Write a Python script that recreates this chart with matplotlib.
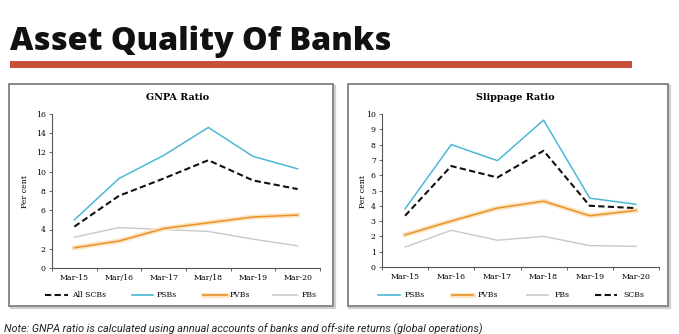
import matplotlib
matplotlib.use("Agg")
import matplotlib.pyplot as plt
from matplotlib.patches import Rectangle
import matplotlib.patheffects as pe

categories_gnpa = ["Mar-15", "Mar/16", "Mar-17", "Mar/18", "Mar-19", "Mar-20"]
categories_slip = ["Mar-15", "Mar-16", "Mar-17", "Mar-18", "Mar-19", "Mar-20"]

gnpa_scbs = [4.3, 7.5, 9.3, 11.2, 9.1, 8.2]
gnpa_psbs = [5.0, 9.3, 11.7, 14.6, 11.6, 10.3]
gnpa_pvbs = [2.1, 2.8, 4.1, 4.7, 5.3, 5.5]
gnpa_fbs = [3.2, 4.2, 4.0, 3.8, 3.0, 2.3]

slip_psbs = [3.8, 8.0, 6.95, 9.6, 4.5, 4.1]
slip_pvbs = [2.1, 3.0, 3.85, 4.3, 3.35, 3.7]
slip_fbs = [1.3, 2.4, 1.75, 2.0, 1.4, 1.35]
slip_scbs = [3.35, 6.6, 5.85, 7.6, 4.0, 3.85]

gnpa_yticks = [0, 2, 4, 6, 8, 10, 12, 14, 16]
slip_yticks = [0, 1, 2, 3, 4, 5, 6, 7, 8, 9, 10]

C_PSB = "#4db8d6"
C_PVB = "#e8922a"
C_FB = "#c9c9c9"
C_SCB = "#111111"
SERIF = ["DejaVu Serif"]
FS = 5.6

W, H = 679, 334
fig = plt.figure(figsize=(W / 100, H / 100), dpi=100)
renderer = fig.canvas.get_renderer()

def fx(px):
    return px / W

def fy(py):
    return 1 - py / H

def fit_width(t, target_px):
    w = t.get_window_extent(renderer=renderer).width
    t.set_fontsize(t.get_fontsize() * target_px / w)

# Title
title = fig.text(fx(10), fy(50), "Asset Quality Of Banks", fontsize=24, fontweight=800,
                 family=["Open Sans", "DejaVu Sans"], va="baseline", ha="left", color="#111111")
fit_width(title, 382)
fig.patches.append(Rectangle((fx(10), fy(67.5)), fx(622), 6 / H, transform=fig.transFigure,
                             facecolor="#c8503a", edgecolor="none"))

# Panel boxes with a faint shadow
for x0, x1 in [(9, 333), (348, 668)]:
    fig.patches.append(Rectangle((fx(x0 + 1.5), fy(307.5)), fx(x1 - x0), (306 - 84) / H,
                                 transform=fig.transFigure, facecolor="none",
                                 edgecolor="#d0d0d0", linewidth=1.6, zorder=0))
    fig.patches.append(Rectangle((fx(x0), fy(306)), fx(x1 - x0), (306 - 84) / H,
                                 transform=fig.transFigure, facecolor="white",
                                 edgecolor="#7f7f7f", linewidth=1.3, zorder=0))

glow = [pe.Stroke(linewidth=3.5, foreground="#fbe3bf"), pe.Normal()]

def panel(rect, cats, series, yticks, title, title_x, ylabel_x, legend_items):
    ax = fig.add_axes(rect)
    ax.set_zorder(2)
    x = list(range(len(cats)))
    for vals, color, ls, lw, effects in series:
        ax.plot(x, vals, color=color, linestyle=ls, linewidth=lw,
                dashes=(3, 1.6) if ls == "--" else (None, None),
                path_effects=effects)
    ax.set_xlim(-0.5, len(cats) - 0.5)
    ax.set_ylim(yticks[0], yticks[-1])
    ax.set_yticks(yticks)
    ax.set_yticklabels([str(t) for t in yticks], family=SERIF, fontsize=FS)
    ax.set_xticks(x)
    ax.set_xticklabels(cats, family=SERIF, fontsize=FS)
    ax.set_xticks([i - 0.5 for i in range(len(cats) + 1)], minor=True)
    ax.tick_params(axis="x", which="major", length=0, pad=4.5)
    ax.tick_params(axis="x", which="minor", length=2.5, color="#666666", width=0.7)
    ax.tick_params(axis="y", length=2.5, color="#666666", width=0.7, pad=2)
    for s in ["top", "right"]:
        ax.spines[s].set_visible(False)
    for s in ["left", "bottom"]:
        ax.spines[s].set_color("#555555")
        ax.spines[s].set_linewidth(0.8)
    ax.patch.set_alpha(0)
    fig.text(fx(title_x), fy(97), title, family=SERIF, fontweight="bold", fontsize=6.9,
             ha="center", va="center", zorder=3)
    fig.text(fx(ylabel_x), fy(191), "Per cent", family=SERIF, fontsize=FS,
             rotation=90, ha="center", va="center", zorder=3)
    for lx0, lx1, tx, label, color, ls, effects in legend_items:
        ln = plt.Line2D([fx(lx0), fx(lx1)], [fy(295), fy(295)],
                        transform=fig.transFigure, color=color,
                        linestyle=ls, linewidth=1.5 if ls == "--" else 1.2,
                        dashes=(3, 1.6) if ls == "--" else (None, None),
                        path_effects=effects, zorder=3)
        fig.lines.append(ln)
        fig.text(fx(tx), fy(295), label, family=SERIF, fontsize=FS, ha="left", va="center",
                 zorder=3)
    return ax

panel([fx(52), fy(268), fx(268), (268 - 114) / H], categories_gnpa,
      [(gnpa_fbs, C_FB, "-", 1.0, None),
       (gnpa_pvbs, C_PVB, "-", 1.1, glow),
       (gnpa_psbs, C_PSB, "-", 1.1, None),
       (gnpa_scbs, C_SCB, "--", 1.5, None)],
      gnpa_yticks, "GNPA Ratio", 178, 25,
      [(45, 68, 72, "All SCBs", C_SCB, "--", None),
       (132, 153, 157, "PSBs", C_PSB, "-", None),
       (203, 227, 230, "PVBs", C_PVB, "-", glow),
       (273, 297, 302, "FBs", C_FB, "-", None)])

panel([fx(382), fy(267), fx(277), (267 - 114) / H], categories_slip,
      [(slip_fbs, C_FB, "-", 1.0, None),
       (slip_pvbs, C_PVB, "-", 1.1, glow),
       (slip_psbs, C_PSB, "-", 1.1, None),
       (slip_scbs, C_SCB, "--", 1.5, None)],
      slip_yticks, "Slippage Ratio", 515, 363,
      [(378, 400, 405, "PSBs", C_PSB, "-", None),
       (452, 473, 478, "PVBs", C_PVB, "-", glow),
       (527, 548, 555, "FBs", C_FB, "-", None),
       (595, 617, 623, "SCBs", C_SCB, "--", None)])

note = fig.text(fx(4), fy(332), "Note: GNPA ratio is calculated using annual accounts of banks and off-site returns (global operations)",
                family=["Roboto", "DejaVu Sans"], style="italic", fontsize=8.0, color="#222222",
                ha="left", va="baseline")
fit_width(note, 478)

fig.savefig("out.png", dpi=100)
